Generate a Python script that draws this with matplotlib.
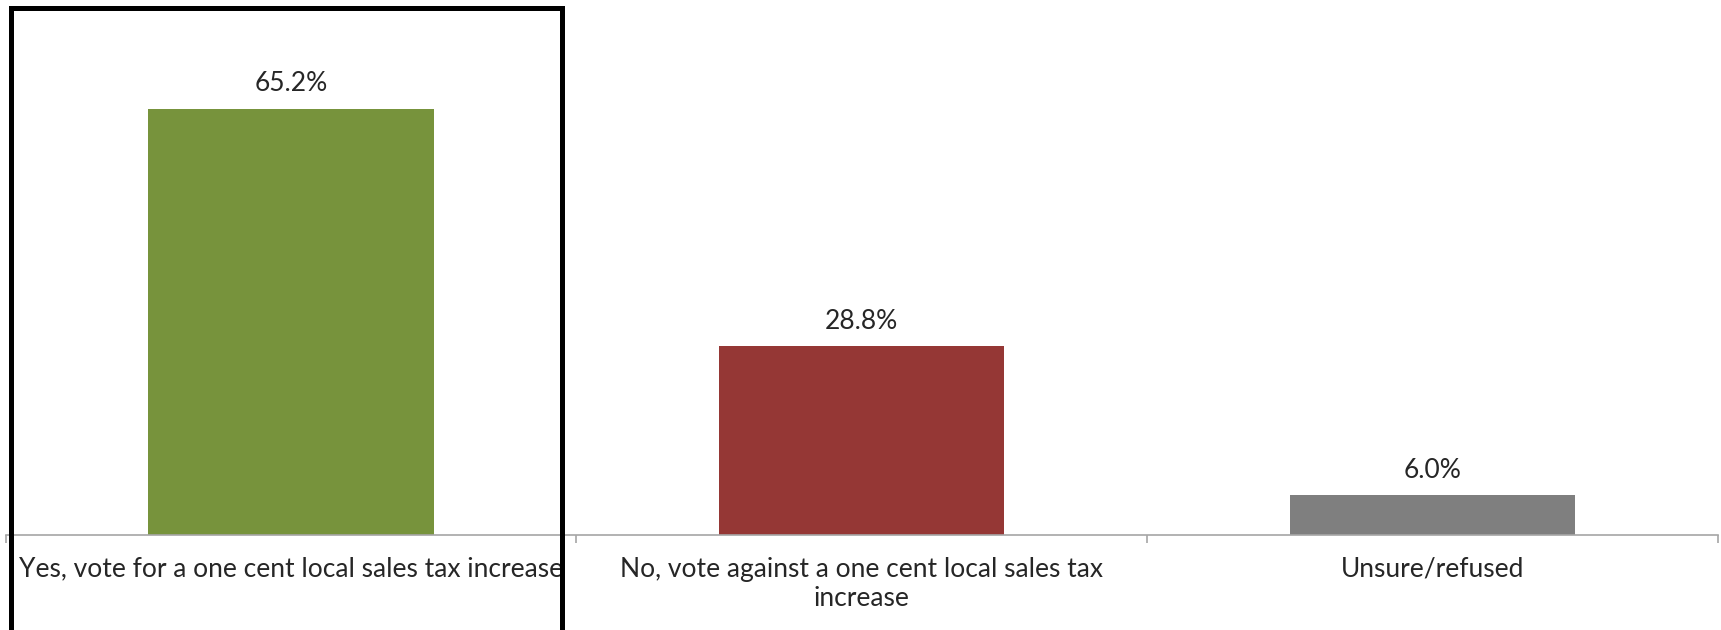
import numpy as np
import matplotlib.pyplot as plt
from matplotlib.patches import Rectangle

categories = ["Yes, vote for a one cent local sales tax increase",
              "No, vote against a one cent local sales tax\nincrease",
              "Unsure/refused"]
values = [65.2, 28.8, 6.0]
colors = ["#77933C", "#953735", "#7F7F7F"]

W, H = 1721, 630
fig = plt.figure(figsize=(W / 100, H / 100), dpi=100)
plt.rcParams['font.family'] = ['Lato', 'DejaVu Sans']
txtcol = "#262626"

# axes placed in pixel terms: x from 5.5 to 1718, y from 534.5 (bottom) to 12
left, right, bottom, top = 5.5, 1718, H - 534.5, H - 12
ax = fig.add_axes([left / W, bottom / H, (right - left) / W, (top - bottom) / H])

x = np.arange(len(categories))
ax.bar(x, values, width=0.5, color=colors)
ax.set_xlim(-0.5, len(categories) - 0.5)
ax.set_ylim(0, 80)

for xi, v in zip(x, values):
    ax.annotate(f"{v:.1f}%", (xi, v), xytext=(0, 9), textcoords="offset points",
                ha="center", va="bottom", fontsize=19, color=txtcol)

for s in ["top", "right", "left"]:
    ax.spines[s].set_visible(False)
ax.spines["bottom"].set_color("#A6A6A6")
ax.spines["bottom"].set_linewidth(1.2)
ax.set_yticks([])

# tick marks at category boundaries, labels at centres
ax.set_xticks(np.arange(-0.5, len(categories)), minor=False)
ax.set_xticklabels([])
ax.tick_params(axis="x", which="major", length=6, color="#A6A6A6", width=1.2)
ax.set_xticks(x, minor=True)
ax.set_xticklabels(categories, minor=True, fontsize=19, color=txtcol,
                   linespacing=1.2)
ax.tick_params(axis="x", which="minor", length=0, pad=16)

# black highlight box around the first category
box = Rectangle((11 / W, -0.05), (562 - 11) / W, (H - 7.5) / H + 0.05,
                transform=fig.transFigure, fill=False, edgecolor="black",
                linewidth=3.6, clip_on=False)
fig.patches.append(box)

fig.savefig("out.png", dpi=100)
